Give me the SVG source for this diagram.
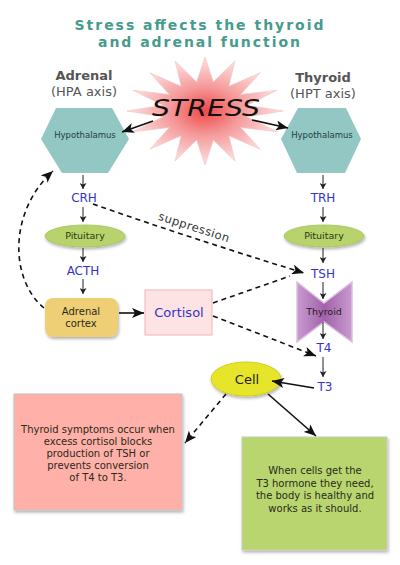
<svg xmlns="http://www.w3.org/2000/svg" width="400" height="565" viewBox="0 0 400 565">
<defs>
<style>
text{font-family:"DejaVu Sans","Liberation Sans",sans-serif}
.title{font-size:14px;font-weight:bold;fill:#459b8c;text-anchor:middle}
.axb{font-size:13px;font-weight:bold;fill:#555;text-anchor:middle}
.axn{font-size:13px;fill:#555;text-anchor:middle}
.hyp{font-size:8.5px;fill:#1f3f3f;text-anchor:middle}
.hex{fill:#92c7c4}
.pit{fill:#b8d36c;stroke:#a6c25c;stroke-width:0.8}
.pitt{font-size:9.5px;fill:#2a3a10;text-anchor:middle}
.hor{font-size:12px;fill:#3434c8;text-anchor:middle}
.lbl{font-size:10px;fill:#2a2a1a;text-anchor:middle}
.thin{stroke:#222;stroke-width:1;fill:none;marker-end:url(#sm)}
.solid{stroke:#111;stroke-width:1.6;fill:none;marker-end:url(#lg)}
.dash{stroke:#111;stroke-width:1.6;fill:none;stroke-dasharray:5 4;marker-end:url(#lg)}
.dashn{stroke:#111;stroke-width:1.6;fill:none;stroke-dasharray:5 4}
</style>
<marker id="sm" viewBox="0 0 6 7" markerWidth="6" markerHeight="7" refX="6" refY="3.5" orient="auto" markerUnits="userSpaceOnUse">
<path d="M0,0 L6,3.5 L0,7 L1.5,3.5 z" fill="#222"/>
</marker>
<marker id="lg" viewBox="0 0 12 10" markerWidth="12" markerHeight="10" refX="12" refY="5" orient="auto" markerUnits="userSpaceOnUse">
<path d="M0,0 L12,5 L0,10 L3,5 z" fill="#111"/>
</marker>
<radialGradient id="starg" cx="0.5" cy="0.5" r="0.5">
<stop offset="0" stop-color="#f04848"/>
<stop offset="0.45" stop-color="#f59a9a"/>
<stop offset="1" stop-color="#fde2e2"/>
</radialGradient>
<linearGradient id="thyg" x1="0" y1="0" x2="1" y2="0">
<stop offset="0" stop-color="#c99ad0"/>
<stop offset="0.5" stop-color="#a262ab"/>
<stop offset="1" stop-color="#c99ad0"/>
</linearGradient>
<filter id="sh" x="-10%" y="-10%" width="130%" height="130%">
<feDropShadow dx="1" dy="2" stdDeviation="1.5" flood-color="#000" flood-opacity="0.3"/>
</filter>
</defs>
<rect width="400" height="565" fill="#fff"/>

<g id="title">
<text class="title" x="199" y="30" textLength="249" lengthAdjust="spacing">Stress affects the thyroid</text>
<text class="title" x="199" y="47" textLength="202" lengthAdjust="spacing">and adrenal function</text>
</g>

<g id="axis-labels">
<text class="axb" x="84" y="80">Adrenal</text>
<text class="axn" x="84" y="96">(HPA axis)</text>
<text class="axb" x="323" y="82">Thyroid</text>
<text class="axn" x="323" y="98">(HPT axis)</text>
</g>

<g id="stress">
<polygon transform="translate(205,111) scale(0.78,0.54)" fill="url(#starg)" stroke="#f3c4c4" stroke-width="1" points="0,-100 10.7,-53.9 38.3,-92.4 30.6,-45.7 70.7,-70.7 45.7,-30.6 92.4,-38.3 53.9,-10.7 100,0 53.9,10.7 92.4,38.3 45.7,30.6 70.7,70.7 30.6,45.7 38.3,92.4 10.7,53.9 0,100 -10.7,53.9 -38.3,92.4 -30.6,45.7 -70.7,70.7 -45.7,30.6 -92.4,38.3 -53.9,10.7 -100,0 -53.9,-10.7 -92.4,-38.3 -45.7,-30.6 -70.7,-70.7 -30.6,-45.7 -38.3,-92.4 -10.7,-53.9"/>
<text x="206" y="116" font-family="Liberation Sans, sans-serif" font-size="23" font-style="italic" text-anchor="middle" fill="#111" textLength="108" lengthAdjust="spacingAndGlyphs">STRESS</text>
</g>

<g id="hypothalamus-left">
<polygon class="hex" points="56,108 112,108 129,139 108,173 62,173 41,139"/>
<text class="hyp" x="85" y="138">Hypothalamus</text>
</g>
<g id="hypothalamus-right">
<polygon class="hex" points="298,108 346,108 361,139 345,173 297,173 281,139"/>
<text class="hyp" x="322" y="138">Hypothalamus</text>
</g>

<g id="crh"><text class="hor" x="84" y="202">CRH</text></g>
<g id="trh"><text class="hor" x="323" y="202">TRH</text></g>

<g id="pituitary-left">
<ellipse class="pit" cx="85" cy="236" rx="40" ry="11" filter="url(#sh)"/>
<text class="pitt" x="85" y="239">Pituitary</text>
</g>
<g id="pituitary-right">
<ellipse class="pit" cx="324" cy="236" rx="40" ry="11" filter="url(#sh)"/>
<text class="pitt" x="324" y="239">Pituitary</text>
</g>

<g id="acth"><text class="hor" x="83" y="275">ACTH</text></g>
<g id="tsh"><text class="hor" x="323" y="278">TSH</text></g>

<g id="adrenal-cortex">
<rect x="45" y="298" width="73" height="39" rx="8" fill="#efcf76" filter="url(#sh)"/>
<text class="lbl" x="81" y="315">Adrenal</text>
<text class="lbl" x="81" y="327">cortex</text>
</g>

<g id="cortisol">
<rect x="145" y="290" width="67" height="45" fill="#fde3e3" stroke="#f2b4b4" stroke-width="1"/>
<text x="179" y="317" font-size="13" fill="#3434c8" text-anchor="middle">Cortisol</text>
</g>

<g id="thyroid">
<polygon points="297,282 324,303 352,282 352,342 324,322 297,342" fill="url(#thyg)" stroke="#dcc0e0" stroke-width="1.5"/>
<text x="324" y="315" font-size="9.5" fill="#222" text-anchor="middle">Thyroid</text>
</g>

<g id="t4"><text class="hor" x="324" y="352">T4</text></g>
<g id="t3"><text class="hor" x="325" y="391">T3</text></g>

<g id="cell">
<ellipse cx="246" cy="379" rx="35" ry="17" fill="#e6e52c" stroke="#cfcd22" stroke-width="1" filter="url(#sh)"/>
<text x="247" y="384" font-size="13" fill="#222" text-anchor="middle">Cell</text>
</g>

<g id="symptoms-box">
<rect x="14" y="394" width="168" height="116" fill="#ffb1a9" stroke="#c9c0be" stroke-width="1" filter="url(#sh)"/>
<text class="lbl" x="98" y="433">Thyroid symptoms occur when</text>
<text class="lbl" x="98" y="445">excess cortisol blocks</text>
<text class="lbl" x="98" y="457">production of TSH or</text>
<text class="lbl" x="98" y="469">prevents conversion</text>
<text class="lbl" x="98" y="481">of T4 to T3.</text>
</g>

<g id="healthy-box">
<rect x="242" y="437" width="145" height="113" fill="#b9d56f" stroke="#c6cfb4" stroke-width="1" filter="url(#sh)"/>
<text class="lbl" x="315" y="474">When cells get the</text>
<text class="lbl" x="315" y="487">T3 hormone they need,</text>
<text class="lbl" x="315" y="499">the body is healthy and</text>
<text class="lbl" x="315" y="512">works as it should.</text>
</g>

<g id="connectors">
<line class="solid" x1="153" y1="121" x2="122" y2="132"/>
<line class="solid" x1="252" y1="120" x2="288" y2="128"/>
<line class="thin" x1="83" y1="175" x2="83" y2="189"/>
<line class="thin" x1="83" y1="207" x2="83" y2="222"/>
<line class="thin" x1="83" y1="248" x2="83" y2="262"/>
<line class="thin" x1="83" y1="279" x2="83" y2="294"/>
<line class="thin" x1="323" y1="175" x2="323" y2="189"/>
<line class="thin" x1="323" y1="207" x2="323" y2="222"/>
<line class="thin" x1="323" y1="248" x2="323" y2="263"/>
<line class="thin" x1="323" y1="282" x2="323" y2="299"/>
<line class="thin" x1="323" y1="322" x2="323" y2="339"/>
<line class="thin" x1="323" y1="357" x2="323" y2="377"/>
<path class="dash" d="M44,308 C10,280 8,212 53,171"/>
<path class="dash" d="M93,204 Q190,238 304,273"/>
<path class="dashn" d="M213,303 L290,276"/>
<path class="dash" d="M213,316 L316,356"/>
<line class="solid" x1="119" y1="313" x2="144" y2="313"/>
<line class="solid" x1="314" y1="388" x2="272" y2="381"/>
<line class="solid" x1="268" y1="394" x2="316" y2="436"/>
<path class="dash" d="M226,394 L185,443"/>
<text x="193" y="231" font-size="11.5" fill="#333" text-anchor="middle" letter-spacing="0.5" transform="rotate(18 193 231)">suppression</text>
</g>
</svg>
